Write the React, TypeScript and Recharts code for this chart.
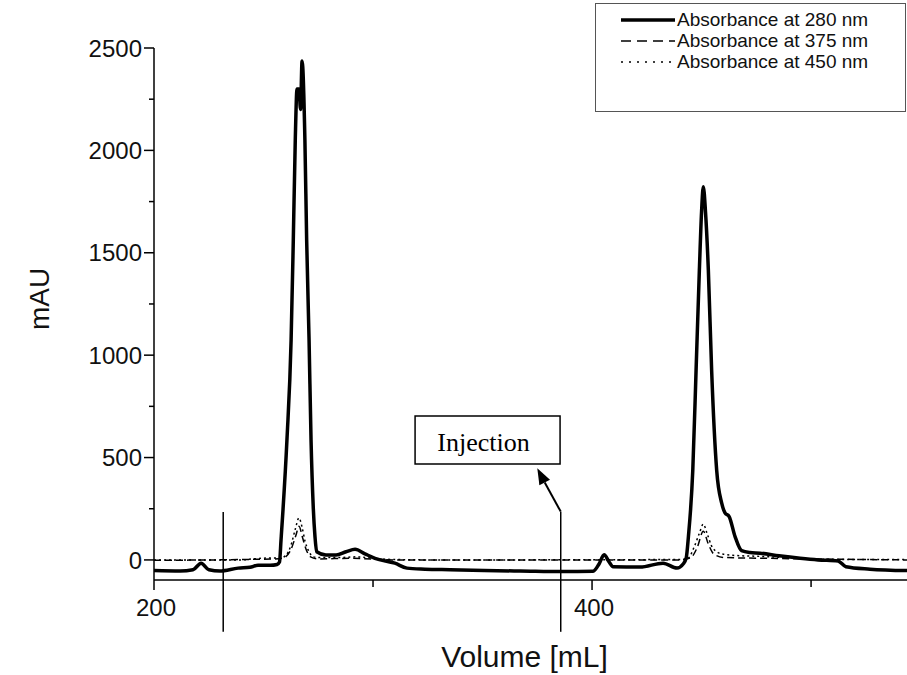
import React from 'react';
import {
  LineChart, Line, XAxis, YAxis, Legend, ReferenceLine, ReferenceArea, ReferenceDot, Label,
} from 'recharts';

// elution volume (mL) and absorbance (mAU)
const vol280 = [
  200, 211.9, 217.8, 221.5, 225.1, 230.1, 238.4, 243.8, 247.5, 253, 256.2, 257.3, 258, 260.7,
  262.6, 263.6, 264.5, 265.3, 266.2, 266.9, 267.6, 268.9, 269.7, 270.8, 271.7, 272.7, 273.5,
  274.3, 278.5, 283.1, 287.7, 291.8, 296.3, 300.9, 310, 315.5, 323.7, 335.2, 350.7, 367.1,
  386.3, 400.5, 403.2, 405.5, 407.8, 409.6, 421.9, 432.4, 438.8, 441.6, 443, 444, 446, 447.5,
  449, 450, 450.8, 451.8, 453.1, 454.6, 456.9, 459.2, 460.7, 462.6, 465.3, 468.3, 472.1,
  476.7, 485.4, 495, 503.2, 512.3, 515.9, 526.9, 543.8,
];
const abs280 = [
  -52, -54, -48, -16, -48, -54, -40, -36, -26, -26, -22, -10, 98, 586,
  1074, 1562, 2050, 2300, 2300, 2200, 2437, 2050, 1562, 1074, 586, 260, 114,
  40, 24, 24, 40, 52, 30, 8, -16, -40, -45, -48, -52, -54,
  -57, -55, -20, 25, -10, -33, -35, -16, -40, -20, 10, 114, 439, 927,
  1415, 1700, 1822, 1700, 1415, 927, 439, 277, 230, 212, 114, 45, 36,
  33, 20, 8, 0, -5, -33, -45, -52,
];

const vol375 = [
  200, 255, 259, 262.5, 264.8, 266.2, 267.8, 269.5, 271.5, 275, 290, 310, 440, 445, 448,
  450.8, 453, 455.5, 460, 480, 543.8,
];
const abs375 = [
  -2, 5, 10, 50, 120, 165, 110, 50, 15, 5, 8, 0, 0, 10, 60,
  140, 80, 30, 12, 8, 0,
];

const vol450 = [
  200, 240, 245, 255, 257.3, 260, 262.5, 264.5, 266.2, 267.6, 269, 270.8, 272.7, 276, 285,
  292, 300, 310, 330, 440, 444, 446.5, 449, 450.8, 452.5, 454.5, 456.9, 460, 465, 475, 490,
  505, 543.8,
];
const abs450 = [
  0, 0, 5, 10, 8, 20, 70, 150, 205, 160, 90, 40, 15, 12, 12,
  15, 8, 2, 0, 2, 10, 60, 130, 175, 130, 70, 40, 28, 22, 18, 10,
  3, 2,
];

const yTicks = [0, 250, 500, 750, 1000, 1250, 1500, 1750, 2000, 2250, 2500];
const xTicks = [200, 300, 400, 500];
const xLabeled = [200, 400];

const toRows = (vs: number[], as: number[]) => vs.map((v, i) => ({ v, a: as[i] }));
const data280 = toRows(vol280, abs280);
const data375 = toRows(vol375, abs375);
const data450 = toRows(vol450, abs450);

const FONT = '"Liberation Sans", Arial, sans-serif';
const SERIF = '"Liberation Serif", "Times New Roman", serif';

const YTick = (props: any) => {
  const { x, y, payload } = props;
  const axisX = x + 12;
  const major = payload.value % 500 === 0;
  return (
    <g>
      <line x1={axisX - (major ? 10 : 5)} x2={axisX} y1={y} y2={y} stroke="#000" strokeWidth={1.5} />
      {major && (
        <text x={x} y={y} dy="0.36em" textAnchor="end" fontSize={24} fontFamily={FONT} fill="#111">
          {payload.value}
        </text>
      )}
    </g>
  );
};

const XTick = (props: any) => {
  const { x, y, payload } = props;
  const axisY = y - 19;
  const major = xLabeled.includes(payload.value);
  return (
    <g>
      <line x1={x} x2={x} y1={axisY} y2={axisY + (major ? 10 : 7)} stroke="#000" strokeWidth={1.5} />
      {major && (
        <text x={x + 2} y={y} dy="0.71em" textAnchor="middle" fontSize={24} fontFamily={FONT} fill="#111">
          {payload.value}
        </text>
      )}
    </g>
  );
};

const legendRows = [
  { name: 'Absorbance at 280 nm', width: 3.5, dash: undefined },
  { name: 'Absorbance at 375 nm', width: 1.5, dash: '10 6' },
  { name: 'Absorbance at 450 nm', width: 1.5, dash: '2 6' },
];

const LegendBox = () => (
  <div
    style={{
      width: 311, height: 109, border: '1.5px solid #555', background: '#fff',
      boxSizing: 'border-box', paddingTop: 5, fontFamily: FONT,
    }}
  >
    {legendRows.map((r) => (
      <div key={r.name} style={{ display: 'flex', alignItems: 'center', height: 21 }}>
        <svg width={79} height={12} style={{ flex: 'none' }}>
          <line x1={25} x2={79} y1={6} y2={6} stroke="#000" strokeWidth={r.width} strokeDasharray={r.dash} />
        </svg>
        <span style={{ fontSize: 19, lineHeight: '20px', color: '#111', marginLeft: 2, whiteSpace: 'nowrap' }}>{r.name}</span>
      </div>
    ))}
  </div>
);

const Arrowhead = (props: any) => {
  const { cx, cy } = props;
  const ux = -0.463, uy = -0.886;
  const len = 16, half = 6;
  const bx = cx - len * ux, by = cy - len * uy;
  const px = -uy, py = ux;
  const pts = `${cx},${cy} ${bx + half * px},${by + half * py} ${bx - half * px},${by - half * py}`;
  return <polygon points={pts} fill="#000" />;
};

export default function App() {
  return (
    <div style={{ position: 'absolute', left: 0, top: 0, background: '#fff' }}>
      <LineChart width={907} height={675} margin={{ top: 48, right: 0, bottom: 0, left: 0 }}>
        <XAxis
          type="number"
          dataKey="v"
          domain={[200, 543.8]}
          allowDataOverflow
          ticks={xTicks}
          interval={0}
          tick={<XTick />}
          tickLine={false}
          tickSize={8}
          tickMargin={11}
          height={95}
          stroke="#000"
          strokeWidth={1.5}
        >
          <Label value="Volume [mL]" position="insideBottom" offset={8} dx={-6} fontSize={30} fontFamily={FONT} fill="#111" />
        </XAxis>
        <YAxis
          type="number"
          domain={[-98, 2500]}
          allowDataOverflow
          ticks={yTicks}
          interval={0}
          tick={<YTick />}
          tickLine={false}
          tickSize={10}
          tickMargin={2}
          width={154}
          stroke="#000"
          strokeWidth={1.5}
        >
          <Label value="mAU" angle={-90} position="insideLeft" offset={39} dy={16} fontSize={28} fontFamily={FONT} fill="#111" />
        </YAxis>
        <Legend
          layout="vertical"
          verticalAlign="middle"
          align="center"
          content={<LegendBox />}
          wrapperStyle={{ left: 595, top: 3, width: 311, height: 109 }}
        />
        <Line data={data450} dataKey="a" name="Absorbance at 450 nm" type="monotone" stroke="#000"
          strokeWidth={1.5} strokeDasharray="2 3" dot={false} isAnimationActive={false} />
        <Line data={data375} dataKey="a" name="Absorbance at 375 nm" type="monotone" stroke="#000"
          strokeWidth={1.5} strokeDasharray="7 4" dot={false} isAnimationActive={false} />
        <Line data={data280} dataKey="a" name="Absorbance at 280 nm" type="monotone" stroke="#000"
          strokeWidth={3.5} dot={false} isAnimationActive={false} />
        <ReferenceLine segment={[{ x: 231.6, y: 234 }, { x: 231.6, y: -351 }]} ifOverflow="visible" stroke="#000" strokeWidth={1.5} />
        <ReferenceLine segment={[{ x: 385.7, y: 236 }, { x: 385.7, y: -351 }]} ifOverflow="visible" stroke="#000" strokeWidth={1.5} />
        <ReferenceLine segment={[{ x: 385.7, y: 236 }, { x: 378.4, y: 378 }]} ifOverflow="visible" stroke="#000" strokeWidth={2} />
        <ReferenceDot x={375.0} y={447.5} ifOverflow="visible" shape={<Arrowhead />} />
        <ReferenceArea x1={319.2} x2={385.4} y1={468} y2={703} ifOverflow="visible" fill="#fff" fillOpacity={1} stroke="#000" strokeWidth={1.5}>
          <Label value="Injection" position="center" dx={-4} dy={2} fontSize={26} fontFamily={SERIF} fill="#000" />
        </ReferenceArea>
      </LineChart>
    </div>
  );
}
